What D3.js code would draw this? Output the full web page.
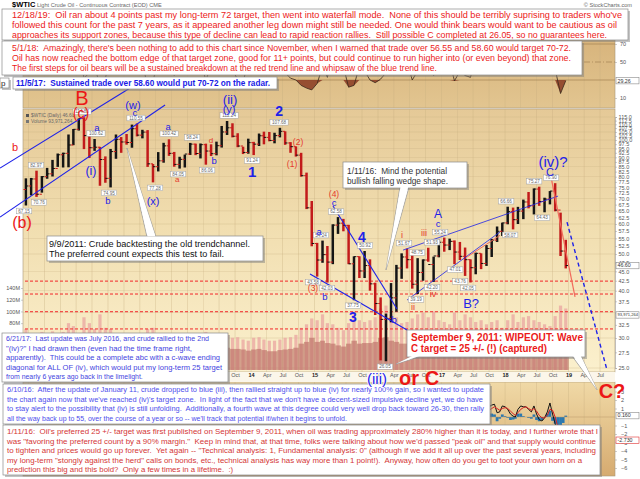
<!doctype html>
<html lang='en'>
<head>
<meta charset='UTF-8'>
<title>$WTIC</title>
<style>
  body { margin: 0; background: #fff; }
  svg { display: block; font-family: 'Liberation Sans', Arial, sans-serif; }
  .ax text { font-size: 5.5px; fill: #555; }
  .ax path, .ax line { stroke: #9a9a9a; stroke-width: 0.5; }
  .note text { white-space: pre; }
</style>
</head>
<body>
<script src='https://d3js.org/d3.v7.min.js'></script>
<script>
  // monthly price bars, Jun 2010 .. Dec 2018
  const firstOpen = 74.0
  const high = [
    79.2, 79.4, 82.97, 80.3, 84.4, 88.6, 92.1,
    92.6, 103.4, 106.9, 113.9, 114.83, 102.4, 100.62, 95.9, 90.5, 94.7, 103.4, 101.8,
    103.7, 109.8, 110.55, 106.4, 106.2, 86.4, 92.9, 98.3, 100.42, 93.0, 90.3, 91.5,
    98.24, 97.8, 97.9, 97.8, 97.4, 99.0, 108.9, 112.24, 110.7, 104.2, 96.0, 100.8,
    98.9, 104.0, 105.2, 105.0, 104.5, 107.68, 105.4, 98.7, 96.2, 92.5, 82.0, 69.0,
    53.5, 54.24, 52.5, 59.9, 62.58, 61.9, 59.7, 49.3, 49.3, 50.92, 48.4, 42.0,
    38.4, 34.8, 41.9, 46.8, 50.2, 51.67, 49.6, 48.75, 48.4, 51.93, 49.2, 54.5,
    55.24, 54.9, 54.3, 53.8, 52.0, 48.4, 50.4, 50.2, 52.8, 54.8, 59.1, 60.5,
    66.66, 66.3, 66.6, 69.6, 72.9, 74.5, 75.27, 70.4, 73.3, 76.9, 64.3, 54.5
  ]
  const low = [
    67.15, 71.4, 70.76, 72.6, 79.0, 80.1, 84.9,
    84.6, 84.7, 96.9, 105.9, 94.6, 89.6, 93.6, 75.7, 77.1, 74.95, 89.2, 92.5,
    97.2, 95.4, 102.2, 101.0, 84.9, 77.28, 82.6, 87.1, 90.8, 85.0, 84.05, 84.6,
    91.3, 91.2, 89.4, 86.06, 90.7, 91.1, 95.5, 103.1, 101.6, 95.7, 91.8, 92.0,
    91.24, 96.4, 97.4, 99.2, 98.0, 101.6, 97.1, 92.5, 90.4, 80.0, 65.7, 52.4,
    43.58, 47.4, 42.03, 47.0, 56.5, 57.4, 47.0, 37.75, 43.2, 43.2, 40.0, 34.5,
    26.19, 26.05, 33.0, 35.2, 43.0, 45.8, 40.5, 39.19, 42.5, 47.7, 42.2, 49.0,
    50.7, 51.2, 47.01, 48.2, 43.76, 42.05, 44.2, 45.6, 46.5, 49.1, 53.8, 55.8,
    59.9, 58.07, 60.0, 61.8, 66.0, 63.6, 67.0, 64.43, 67.6, 64.8, 49.4, 45.8
  ]
  const close = [
    75.6, 78.9, 71.9, 80.0, 81.4, 84.1, 91.4,
    92.2, 97.0, 106.7, 113.9, 102.7, 95.4, 95.7, 88.8, 79.2, 93.2, 100.4, 98.8,
    98.5, 107.1, 103.0, 104.9, 86.5, 85.0, 88.1, 96.5, 92.2, 86.2, 88.9, 91.8,
    97.5, 92.1, 97.2, 93.5, 92.0, 96.6, 105.0, 107.7, 102.3, 96.4, 92.7, 98.4,
    97.5, 102.6, 101.6, 99.7, 102.7, 105.4, 98.2, 96.0, 91.2, 80.5, 66.2, 53.3,
    48.2, 49.8, 47.6, 59.6, 60.3, 59.5, 47.1, 49.2, 45.1, 46.6, 41.7, 37.0,
    33.6, 33.8, 38.3, 45.9, 49.1, 48.3, 41.6, 44.7, 48.2, 46.9, 49.4, 53.7,
    52.8, 54.0, 50.6, 49.3, 48.3, 46.0, 50.2, 47.2, 51.7, 54.4, 57.4, 60.4,
    64.7, 61.6, 64.9, 68.6, 67.0, 74.2, 68.8, 69.8, 73.3, 65.3, 50.9, 46.6
  ]
  // volume in millions: typical day and busiest day of each month
  const volAvg = [
    42, 38, 40, 42, 40, 42, 38,
    42, 50, 48, 40, 55, 50, 45, 55, 45, 45, 40, 35,
    38, 40, 40, 38, 45, 45, 40, 38, 38, 40, 38, 35,
    38, 36, 36, 40, 38, 38, 40, 38, 36, 36, 35, 33,
    35, 36, 34, 32, 32, 34, 35, 36, 38, 45, 48, 55,
    48, 50, 46, 45, 42, 40, 45, 50, 45, 46, 46, 48,
    55, 56, 50, 48, 45, 45, 48, 50, 50, 48, 52, 46,
    45, 43, 50, 46, 50, 48, 45, 46, 43, 45, 46, 40,
    45, 50, 45, 48, 50, 46, 45, 43, 42, 48, 58, 62
  ]
  const volMax = [
    70, 60, 62, 65, 62, 66, 58,
    65, 80, 75, 62, 90, 80, 70, 95, 72, 70, 62, 55,
    60, 62, 62, 58, 70, 72, 62, 58, 60, 62, 58, 52,
    58, 55, 55, 65, 58, 58, 62, 60, 55, 56, 52, 50,
    55, 56, 52, 50, 50, 52, 55, 56, 60, 72, 78, 88,
    85, 95, 80, 78, 72, 68, 80, 100, 85, 82, 85, 90,
    105, 110, 95, 90, 80, 82, 88, 95, 98, 90, 100, 85,
    82, 78, 98, 85, 95, 90, 82, 85, 78, 82, 85, 72,
    85, 95, 82, 90, 92, 85, 82, 78, 75, 92, 110, 105
  ]
  const rsi = [
    50, 55, 38, 55, 58, 56, 62,
    55, 60, 62, 65, 32, 38, 45, 24, 32, 55, 58, 45,
    52, 60, 52, 50, 22, 28, 55, 60, 50, 35, 48, 52,
    58, 38, 50, 30, 45, 55, 68, 60, 42, 30, 28, 50,
    42, 58, 45, 45, 52, 60, 38, 32, 30, 24, 21, 19,
    26, 45, 33, 62, 58, 45, 22, 24, 45, 40, 30, 27,
    31, 38, 55, 60, 62, 50, 30, 40, 50, 55, 35, 60,
    52, 50, 29, 40, 35, 33, 55, 45, 58, 60, 68, 58,
    62, 38, 50, 60, 55, 45, 48, 40, 60, 42, 15, 29.26
  ]
  // MACD, twice a month (only the right end is visible)
  const macdDates = ['2017-09-01', '2017-09-16', '2017-10-01', '2017-10-16', '2017-11-01', '2017-11-16',
    '2017-12-01', '2017-12-16', '2018-01-01', '2018-01-16', '2018-02-01', '2018-02-16', '2018-03-01',
    '2018-03-16', '2018-04-01', '2018-04-16', '2018-05-01', '2018-05-16', '2018-06-01', '2018-06-16',
    '2018-07-01', '2018-07-16', '2018-08-01', '2018-08-16', '2018-09-01', '2018-09-16', '2018-10-01',
    '2018-10-16', '2018-11-01', '2018-11-16', '2018-12-01', '2018-12-16']
  const macd = [0.6, 0.8, 1.2, 1.4, 1.5, 0.5, 0.6, 1.3, 1.2, 0.9, 0.35, 0.1, 0.0, 0.9, 1.3, 1.2,
    1.2, 0.9, 0.6, 1.3, 0.35, -0.3, -0.47, -0.1, 0.6, 1.65, 0.35, -0.8, -2.2, -4.0, -4.2, -2.73]
  const signal = [0.5, 0.6, 0.8, 1.0, 1.2, 1.0, 0.8, 1.0, 1.1, 1.0, 0.7, 0.4, 0.2, 0.5, 0.9, 1.1,
    1.2, 1.0, 0.8, 1.0, 0.7, 0.2, -0.1, -0.1, 0.2, 0.9, 0.8, 0.0, -1.2, -2.6, -3.5, -2.89]
  const hist = [0.1, 0.2, 0.4, 0.4, 0.3, -0.5, -0.2, 0.3, 0.1, -0.1, -0.35, -0.3, -0.2, 0.4, 0.4, 0.1,
    0.0, -0.1, -0.2, 0.3, -0.35, -0.5, -0.37, 0.0, 0.4, 0.75, -0.45, -0.8, -1.0, -1.4, -0.7, 0.16]

  const priceTicks = [25, 27.5, 30, 32.5, 35, 37.5, 40, 42.5, 45, 47.5, 50, 52.5, 55, 57.5, 60, 62.5,
    65, 67.5, 70, 72.5, 75, 77.5, 80, 82.5, 85, 87.5, 90, 92.5, 95, 97.5, 100, 102.5, 105, 107.5,
    110, 112.5, 115]
  const volTicks = [80, 100, 120, 140]
  const rsiTicks = [10, 50, 70]
  const macdTicks = [3, 2, 1, -1, -2, -3, -4, -5, -6]
  const supportLevels = [42.4, 39.2, 35.2, 31.7]

  // pivot price flags: value, decimal year, above/below
  const priceFlags = [
    ['67.15', 2010.425, 'lo'], ['82.97', 2010.614, 'hi'], ['70.76', 2010.661, 'lo'],
    ['114.83', 2011.339, 'hi'], ['100.62', 2011.559, 'hi'], ['74.95', 2011.764, 'lo'],
    ['110.55', 2012.189, 'hi'], ['77.28', 2012.488, 'lo'], ['100.42', 2012.709, 'hi'],
    ['84.05', 2012.85, 'lo'], ['98.24', 2013.071, 'hi'], ['86.06', 2013.307, 'lo'],
    ['112.24', 2013.654, 'hi'], ['91.24', 2014.016, 'lo'], ['107.68', 2014.441, 'hi'],
    ['43.58', 2014.976, 'lo'], ['54.24', 2015.102, 'hi'], ['42.03', 2015.197, 'lo'],
    ['62.58', 2015.339, 'hi'], ['37.75', 2015.606, 'lo'], ['50.92', 2015.795, 'hi'],
    ['26.05', 2016.11, 'lo'], ['51.67', 2016.409, 'hi'], ['39.19', 2016.598, 'lo'],
    ['48.75', 2016.614, 'hi'], ['51.93', 2016.85, 'hi'], ['42.20', 2016.85, 'lo'],
    ['55.24', 2016.976, 'hi'], ['47.01', 2017.213, 'lo'], ['43.76', 2017.291, 'lo'],
    ['42.05', 2017.417, 'lo'], ['66.66', 2018.016, 'hi'], ['58.07', 2018.079, 'lo'],
    ['75.27', 2018.457, 'hi'], ['64.43', 2018.583, 'lo'], ['76.90', 2018.724, 'hi']
  ]

  const RED = '#ec1717', RED2 = '#e5392c', BLUE = '#1e22e8'
  // wave labels: text, decimal year, price, colour, size, weight
  const waveLabels = [
    ['B', 2011.339, 129.1, RED, 20, 400], ['(c)', 2011.323, 117.8, RED, 14, 400],
    ['b', 2010.283, 95.8, RED, 11, 400], ['(b)', 2010.394, 60.7, RED, 16, 400],
    ['a', 2011.575, 107.6, BLUE, 9.5, 400], ['(i)', 2011.48, 83.3, BLUE, 12.5, 400],
    ['b', 2011.748, 69.0, BLUE, 9.5, 400], ['(w)', 2012.142, 123.7, BLUE, 11, 400],
    ['c', 2012.173, 117.8, BLUE, 9.5, 400], ['(x)', 2012.457, 69.0, BLUE, 11, 400],
    ['a', 2012.693, 108.2, BLUE, 9.5, 400], ['d', 2013.37, 100.0, RED2, 8, 400],
    ['b', 2013.417, 88.0, BLUE, 9.5, 400], ['a', 2012.835, 78.9, RED2, 8, 400],
    ['(ii)', 2013.669, 128.3, BLUE, 13, 400], ['(y)', 2013.654, 120.7, BLUE, 11, 400],
    ['1', 2014.016, 82.3, BLUE, 15, 700], ['2', 2014.441, 119.2, BLUE, 14, 700],
    ['(2)', 2014.74, 98.8, RED2, 8.5, 400], ['(1)', 2014.646, 86.4, RED2, 8.5, 400],
    ['a', 2015.071, 57.2, BLUE, 9.5, 400], ['(4)', 2015.307, 72.0, RED2, 8.5, 400],
    ['c', 2015.307, 68.2, BLUE, 9.5, 400], ['4', 2015.748, 55.4, BLUE, 14, 700],
    ['(3)', 2014.976, 40.7, RED2, 8.5, 400], ['b', 2015.165, 38.7, BLUE, 9.5, 400],
    ['3', 2015.606, 34.1, BLUE, 14, 700], ['b', 2016.252, 33.5, BLUE, 9.5, 400],
    ['i', 2016.378, 56.1, RED2, 9, 400], ['iii', 2016.724, 56.8, RED2, 9, 400],
    ['ii', 2016.551, 36.2, RED2, 9, 400], ['iv', 2016.866, 39.2, RED2, 9, 400],
    ['A', 2016.945, 63.8, BLUE, 12, 400], ['c', 2016.945, 60.0, BLUE, 9.5, 400],
    ['B?', 2017.465, 37.1, BLUE, 13, 400], ['(iv)?', 2018.756, 87.5, BLUE, 15, 400],
    ['C', 2018.709, 82.3, BLUE, 11, 400], ['(iii)', 2015.984, 23.5, BLUE, 15, 400],
    ['or C', 2016.646, 23.5, RED, 20, 700], ['C?', 2019.685, 21.7, RED, 20, 700]
  ]

  // trend lines as [decimal year, price] pairs
  const SALMON = '#f26a5c'
  const trendLines = [
    { pts: [[2010.047, 84.3], [2012.173, 139.7]], col: BLUE, w: 1.1 },
    { pts: [[2010.047, 62.6], [2012.646, 123.7]], col: BLUE, w: 1.1 },
    { pts: [[2015.291, 66.96], [2016.299, 35.8]], col: BLUE, w: 1.1 },
    { pts: [[2014.929, 44.3], [2016.457, 31.5]], col: BLUE, w: 1.1 },
    { pts: [[2016.394, 51.2], [2018.835, 71.1]], col: BLUE, w: 0.8 },
    { pts: [[2016.457, 37.8], [2017.921, 57.2]], col: BLUE, w: 0.8 },
    { pts: [[2017.402, 49.1], [2017.92, 56.0]], col: SALMON, w: 1 },
    { pts: [[2018.724, 79.8], [2019.102, 38.5]], col: SALMON, w: 1.2 },
    { pts: [[2018.976, 60.7], [2019.606, 24.7]], col: BLUE, w: 1.4, dash: '4,3' }
  ]

  // annotation boxes (page layout) and where their tails point (data)
  const notes = [
    { x: 2, y: 9, w: 626, h: 31, col: '#ec1a1a', size: 8.7, lx: 12, ly: [15, 25, 35], ends: [622, 617, 607], lines: [
      '12/18/19:  Oil ran about 4 points past my long-term 72 target, then went into waterfall mode.  None of this should be terribly suprising to traders who\'ve',
      'followed this count for the past 7 years, as it appeared another leg down might still be needed. One would think bears would want to be cautious as oil',
      'approaches its support zones, because this type of decline can lead to rapid reaction rallies.  Still possible C completed at 26.05, so no guarantees here.'] },
    { x: 2, y: 41, w: 580, h: 34, col: '#ec1a1a', size: 8.5, lx: 12, ly: [48, 58, 68], ends: [571, 571, null], lines: [
      '5/1/18:  Amazingly, there\'s been nothing to add to this chart since November, when I warned that trade over 56.55 and 58.60 would target 70-72.',
      'Oil has now reached the bottom edge of that target zone, good for 11+ points, but could continue to run higher into (or even beyond) that zone.',
      'The first steps for oil bears will be a sustained breakdown at the red trend line and whipsaw of the blue trend line.'] },
    { x: 13, y: 77, w: 264, h: 12, col: '#1a1ae6', size: 8.4, weight: 700, lx: 16, ly: [83], ends: [270], lines: [
      '11/5/17:  Sustained trade over 58.60 would put 70-72 on the radar.'] },
    { x: 0, y: 78, w: 9, h: 10, col: '#222', size: 8, lx: 1, ly: [83], ends: [null], lines: ['p'] },
    { x: 343, y: 162, w: 124, h: 26, col: '#333', size: 8.2, lx: 347, ly: [171, 181], ends: [447, 448], lines: [
      '1/11/16:  Mind the potential', 'bullish falling wedge shape.'],
      tails: [{ base: [[400, 187], [409, 187]], tip: [2016.126, 45.4] }] },
    { x: 47, y: 236, w: 216, h: 25, col: '#111', size: 8.3, lx: 49, ly: [244.5, 254], ends: [250, 224], lines: [
      '9/9/2011: Crude backtesting the old trendchannel.', 'The preferred count expects this test to fail.'],
      tails: [{ base: [[147, 237], [156, 237]], tip: [2012.047, 95.2] }] },
    { x: 407, y: 330, w: 178, h: 27, col: '#ec1a1a', size: 10.5, weight: 700, lx: 411, ly: [337.5, 348.5], ends: [583, 547], lines: [
      'September 9, 2011: WIPEOUT: Wave', 'C target = 25 +/- (!) (captured)'],
      tails: [{ base: [[413, 356], [422, 356]], tip: [2016.283, 25.6] }, { base: [[572, 356], [581, 356]], tip: [2019.449, 21.9] }] },
    { x: 2, y: 333, w: 226, h: 49, col: '#4343e0', size: 6.9, lx: 6, ly: [339, 348.5, 358, 367.5, 377], ends: [209, 192, 220, 222, null], lines: [
      '6/21/17:  Last update was July 2016, and crude rallied to the 2nd',
      '"(iv)?" I had drawn then (even had the time frame right,',
      'apparently).  This could be a complete abc with a c-wave ending',
      'diagonal for ALL OF (iv), which would put my long-term 25 target',
      'from nearly 6 years ago back in the limelight.'] },
    { x: 3, y: 384, w: 487, h: 40, col: '#4d4dec', size: 7, lx: 7, ly: [389.5, 399, 408.5, 418], ends: [484, 483, 484, null], lines: [
      '6/10/16:  After the update of January 11, crude dropped to blue (iii), then rallied straight up to blue (iv) for nearly 100% gain, so I wanted to update',
      'the chart again now that we\'ve reached (iv)\'s target zone.  In light of the fact that we don\'t have a decent-sized impulsive decline yet, we do have',
      'to stay alert to the possibility that (iv) is still unfolding.  Additionally, a fourth wave at this degree could very well drop back toward 26-30, then rally',
      'all the way back up to 55, over the course of a year or so -- we\'ll track that potential if/when it begins to unfold.'] },
    { x: 3, y: 425, w: 597, h: 50, col: '#d43636', size: 7.8, lx: 7, ly: [431, 441, 450.5, 460, 469.5], ends: [598, 596, 596, 582, null], lines: [
      '1/11/16:  Oil\'s preferred 25 +/- target was first published on September 9, 2011, when oil was trading approximately 280% higher than it is today, and I further wrote that I',
      'was "favoring the preferred count by a 90% margin."  Keep in mind that, at that time, folks were talking about how we\'d passed "peak oil" and that supply would continue',
      'to tighten and prices would go up forever.  Yet again -- "Technical analysis: 1, Fundamental analysis: 0" (although if we add it all up over the past several years, including',
      'my long-term "stongly against the herd" calls on bonds, etc., technical analysis has way more than 1 point!).  Anyway, how often do you get to toot your own horn on a',
      'prediction this big and this bold?  Only a few times in a lifetime.  :)'] }
  ]

  //// layout ////
  const W = 640, H = 479
  const plotL = 23, plotR = 615
  const rsiTop = 10, rsiBot = 108, mainTop = 109, mainBot = 372, macdTop = 382, macdBot = 476

  const dateOf = t => {
    const yr = Math.floor(t), a = Date.UTC(yr, 0, 1), b = Date.UTC(yr + 1, 0, 1)
    return new Date(a + (t - yr) * (b - a))
  }
  const months = d3.utcMonth.range(new Date(Date.UTC(2010, 5, 1)), new Date(Date.UTC(2019, 0, 1)))
  const mid = m => d3.utcDay.offset(m, 15)

  const x = d3.scaleUtc().domain([dateOf(2010.409), dateOf(2019.732)]).range([plotL, plotR])
  const y = d3.scaleLog().domain([25, 115]).range([368, 117])
  const yVol = d3.scaleLinear().domain([0, 140]).range([370, 288])
  const yRsi = d3.scaleLinear().domain([0, 100]).range([107, 17])
  const yMacd = d3.scaleLinear().domain([-6, 3]).range([468, 391.5])

  const bars = months.map((m, i) => ({ m, o: i ? close[i - 1] : firstOpen, h: high[i], l: low[i], c: close[i],
    va: volAvg[i], vm: volMax[i], r: rsi[i] }))

  const svg = d3.select('body').append('svg').attr('width', W).attr('height', H)
  const defs = svg.append('defs')

  function grad (id, stops) {
    const g = defs.append('linearGradient').attr('id', id).attr('x1', 0).attr('x2', 0).attr('y1', 0).attr('y2', 1)
    stops.forEach(([o, c]) => g.append('stop').attr('offset', o).attr('stop-color', c))
  }
  grad('gRsi', [[0, '#d3ad74'], [1, '#e2c590']])
  grad('gMain', [[0, '#e5c997'], [0.45, '#f1deb0'], [1, '#fbf0cd']])
  grad('gMacd', [[0, '#f0d9a6'], [1, '#d6ab70']])

  defs.append('clipPath').attr('id', 'clipMain').append('rect')
    .attr('x', plotL).attr('y', mainTop).attr('width', plotR - plotL).attr('height', mainBot - mainTop)
  defs.append('clipPath').attr('id', 'clipMacd').append('rect')
    .attr('x', plotL).attr('y', macdTop).attr('width', plotR - plotL).attr('height', macdBot - macdTop)
  defs.append('clipPath').attr('id', 'clipRsi').append('rect')
    .attr('x', plotL).attr('y', rsiTop).attr('width', plotR - plotL).attr('height', rsiBot - rsiTop)

  //// panels ////
  const panels = [[rsiTop, rsiBot, 'gRsi'], [mainTop, mainBot, 'gMain'], [macdTop, macdBot, 'gMacd']]
  svg.selectAll('rect.panel').data(panels).enter().append('rect')
    .attr('class', 'panel')
    .attr('x', plotL).attr('y', d => d[0]).attr('width', plotR - plotL).attr('height', d => d[1] - d[0])
    .attr('fill', d => `url(#${d[2]})`).attr('stroke', '#a89878').attr('stroke-width', 0.6)

  const quarters = d3.utcMonth.every(3).range(dateOf(2010.41), dateOf(2019.74))
  const grid = svg.append('g').attr('class', 'grid')
  panels.forEach(p => {
    grid.append('g').selectAll('line').data(quarters).enter().append('line')
      .attr('x1', d => x(d)).attr('x2', d => x(d)).attr('y1', p[0]).attr('y2', p[1])
      .attr('stroke', '#c9b083').attr('stroke-width', 0.5).attr('opacity', 0.7)
  })
  grid.append('g').selectAll('line').data(priceTicks.filter(v => v % 5 === 0)).enter().append('line')
    .attr('x1', plotL).attr('x2', plotR).attr('y1', d => y(d)).attr('y2', d => y(d))
    .attr('stroke', '#c9b083').attr('stroke-width', 0.5).attr('opacity', 0.6)

  //// RSI panel ////
  const rsiG = svg.append('g').attr('clip-path', 'url(#clipRsi)')
  rsiG.selectAll('line.lvl').data([70, 30]).enter().append('line')
    .attr('x1', plotL).attr('x2', plotR).attr('y1', d => yRsi(d)).attr('y2', d => yRsi(d))
    .attr('stroke', '#9b7a4a').attr('stroke-width', 0.6)
  rsiG.append('line').attr('x1', plotL).attr('x2', plotR).attr('y1', yRsi(50)).attr('y2', yRsi(50))
    .attr('stroke', '#9b7a4a').attr('stroke-width', 0.6).attr('stroke-dasharray', '6,2,1,2')
  rsiG.append('path').datum(bars)
    .attr('fill', '#8a3a22').attr('opacity', 0.85)
    .attr('d', d3.area().x(d => x(mid(d.m))).y0(yRsi(30)).y1(d => yRsi(Math.min(d.r, 30))))
  rsiG.append('path').datum(bars)
    .attr('fill', 'none').attr('stroke', '#3a2a1c').attr('stroke-width', 0.8)
    .attr('d', d3.line().x(d => x(mid(d.m))).y(d => yRsi(d.r)))

  //// main panel ////
  const main = svg.append('g').attr('clip-path', 'url(#clipMain)')
  const vol = main.append('g')
  vol.selectAll('rect.vm').data(bars).enter().append('rect')
    .attr('x', d => x(mid(d.m)) - 1.6).attr('width', 3.2)
    .attr('y', d => yVol(d.vm)).attr('height', d => yVol(0) - yVol(d.vm))
    .attr('fill', '#e9a4a0').attr('opacity', 0.75)
  vol.selectAll('rect.va').data(bars).enter().append('rect')
    .attr('x', d => x(d.m)).attr('width', d => x(d3.utcMonth.offset(d.m, 1)) - x(d.m) + 0.2)
    .attr('y', d => yVol(d.va)).attr('height', d => yVol(0) - yVol(d.va))
    .attr('fill', '#b86a60').attr('opacity', 0.6)

  main.append('g').selectAll('line').data(supportLevels).enter().append('line')
    .attr('x1', plotL - 3).attr('x2', plotR).attr('y1', d => y(d)).attr('y2', d => y(d))
    .attr('stroke', '#f2272a').attr('stroke-width', 1).attr('stroke-dasharray', '3,2')

  const pb = main.append('g')
  pb.selectAll('line.hl').data(bars).enter().append('line')
    .attr('x1', d => x(mid(d.m))).attr('x2', d => x(mid(d.m)))
    .attr('y1', d => y(d.h)).attr('y2', d => y(d.l))
    .attr('stroke', d => d.c >= d.o ? '#151515' : '#c21b1b').attr('stroke-width', 2.5)
  pb.selectAll('line.op').data(bars).enter().append('line')
    .attr('x1', d => x(mid(d.m)) - 2.4).attr('x2', d => x(mid(d.m)))
    .attr('y1', d => y(d.o)).attr('y2', d => y(d.o))
    .attr('stroke', '#d01a1a').attr('stroke-width', 1)
  pb.selectAll('line.cl').data(bars).enter().append('line')
    .attr('x1', d => x(mid(d.m))).attr('x2', d => x(mid(d.m)) + 2.4)
    .attr('y1', d => y(d.c)).attr('y2', d => y(d.c))
    .attr('stroke', '#111').attr('stroke-width', 1)

  // legend
  const lg = svg.append('g').style('font-size', '4.8px').style('fill', '#666')
  lg.append('rect').attr('x', 26).attr('y', 114).attr('width', 3).attr('height', 3).attr('fill', '#555')
  lg.append('text').attr('x', 31).attr('y', 117).text('$WTIC (Daily) 46.60')
  lg.append('rect').attr('x', 26).attr('y', 120).attr('width', 3).attr('height', 3).attr('fill', '#777')
  lg.append('text').attr('x', 31).attr('y', 123).text('Volume 93,971,264')

  //// MACD panel ////
  const mg = svg.append('g').attr('clip-path', 'url(#clipMacd)')
  const md = macdDates.map((s, i) => ({ d: new Date(s), m: macd[i], s: signal[i], h: hist[i] }))
  mg.selectAll('rect').data(md).enter().append('rect')
    .attr('x', d => x(d.d) - 1.4).attr('width', 2.8)
    .attr('y', d => Math.min(yMacd(0), yMacd(d.h))).attr('height', d => Math.abs(yMacd(d.h) - yMacd(0)))
    .attr('fill', '#2b78b0')
  mg.append('line').attr('x1', plotL).attr('x2', plotR).attr('y1', yMacd(0)).attr('y2', yMacd(0))
    .attr('stroke', '#b89a6a').attr('stroke-width', 0.5)
  mg.append('path').datum(md).attr('fill', 'none').attr('stroke', '#111').attr('stroke-width', 1)
    .attr('d', d3.line().x(d => x(d.d)).y(d => yMacd(d.m)))
  mg.append('path').datum(md).attr('fill', 'none').attr('stroke', '#d82020').attr('stroke-width', 1)
    .attr('d', d3.line().x(d => x(d.d)).y(d => yMacd(d.s)))

  //// axes ////
  svg.append('rect').attr('x', plotL).attr('y', mainBot).attr('width', plotR - plotL).attr('height', macdTop - mainBot)
    .attr('fill', '#fbf6ea')
  const mon = d3.utcFormat('%b'), yr2 = d3.utcFormat('%y')
  svg.append('g').attr('class', 'ax').attr('transform', `translate(0,${mainBot})`)
    .call(d3.axisBottom(x).tickValues(quarters).tickFormat(d => d.getUTCMonth() ? mon(d) : yr2(d)).tickSize(0).tickPadding(1.5))
    .call(g => g.select('.domain').remove())
    .selectAll('text').filter(d => !d.getUTCMonth()).style('font-weight', 'bold').style('fill', '#222')

  svg.append('g').attr('class', 'ax').attr('transform', `translate(${plotR},0)`)
    .call(d3.axisRight(y).tickValues(priceTicks).tickFormat(d3.format('.1f')).tickSize(2).tickPadding(1.5))
  svg.append('g').attr('class', 'ax').attr('transform', `translate(${plotR},0)`)
    .call(d3.axisRight(yRsi).tickValues(rsiTicks).tickSize(2).tickPadding(3))
    .call(g => g.select('.domain').remove())
  svg.append('g').attr('class', 'ax').attr('transform', `translate(${plotR},0)`)
    .call(d3.axisRight(yMacd).tickValues(macdTicks).tickFormat(d3.format('d')).tickSize(2).tickPadding(4))
    .call(g => g.select('.domain').remove())
  svg.append('g').attr('class', 'ax').attr('transform', `translate(${plotL},0)`)
    .call(d3.axisLeft(yVol).tickValues(volTicks).tickFormat(d => d + 'M').tickSize(2).tickPadding(1))
    .call(g => g.select('.domain').remove())

  function valueBox (yy, txt, stroke, fs) {
    const g = svg.append('g')
    g.append('rect').attr('x', plotR + 1).attr('y', yy - 3.2).attr('width', 23).attr('height', 6.4)
      .attr('fill', '#fff').attr('stroke', stroke).attr('stroke-width', 0.6)
    g.append('text').attr('x', plotR + 2.5).attr('y', yy).attr('dy', '0.35em')
      .style('font-size', (fs || 5.3) + 'px').style('fill', '#333').text(txt)
  }
  valueBox(yRsi(29.26), '29.26', '#888')
  valueBox(y(46.6), '46.60', '#888')
  valueBox(yVol(93.97), '93,971,264', '#888', 4.1)
  valueBox(yMacd(0.16), '0.160', '#888')
  valueBox(yMacd(-2.73), '-2.730', '#e03030')

  //// annotations ////
  const ann = svg.append('g')
  ann.selectAll('line.trend').data(trendLines).enter().append('line')
    .attr('x1', d => x(dateOf(d.pts[0][0]))).attr('y1', d => y(d.pts[0][1]))
    .attr('x2', d => x(dateOf(d.pts[1][0]))).attr('y2', d => y(d.pts[1][1]))
    .attr('stroke', d => d.col).attr('stroke-width', d => d.w)
    .attr('stroke-dasharray', d => d.dash || null)

  const flags = ann.selectAll('g.flag').data(priceFlags).enter().append('g')
    .attr('transform', d => `translate(${x(dateOf(d[1]))},${y(+d[0]) + (d[2] === 'hi' ? -5.5 : 5.5)})`)
  flags.append('rect').attr('x', d => -d[0].length * 1.35 - 1).attr('y', -2.8)
    .attr('width', d => d[0].length * 2.7 + 2).attr('height', 5.6)
    .attr('fill', '#fff').attr('stroke', '#a0a0a0').attr('stroke-width', 0.5)
  flags.append('text').attr('text-anchor', 'middle').attr('dy', '0.35em')
    .style('font-size', '4.6px').style('fill', '#666').text(d => d[0])

  // notes with tails
  const noteG = svg.selectAll('g.note').data(notes).enter().append('g').attr('class', 'note')
  noteG.selectAll('polygon').data(d => d.tails || []).enter().append('polygon')
    .attr('points', t => [t.base[0], [x(dateOf(t.tip[0])), y(t.tip[1])], t.base[1]].map(p => p.join(',')).join(' '))
    .attr('fill', '#fff').attr('stroke', '#9a9a9a').attr('stroke-width', 0.8)
  noteG.append('rect').attr('x', d => d.x + 2).attr('y', d => d.y + 2).attr('width', d => d.w).attr('height', d => d.h)
    .attr('fill', '#7a7a7a').attr('opacity', 0.45)
  noteG.append('rect').attr('x', d => d.x).attr('y', d => d.y).attr('width', d => d.w).attr('height', d => d.h)
    .attr('fill', '#fff').attr('stroke', '#8a8a8a').attr('stroke-width', 0.7)
  noteG.each(function (d) {
    const g = d3.select(this)
    d.lines.forEach((line, i) => {
      const t = g.append('text').attr('x', d.lx).attr('y', d.ly[i]).attr('dy', '0.36em')
        .style('font-size', d.size + 'px').style('font-weight', d.weight || 400).style('fill', d.col)
        .text(line)
      if (d.ends[i]) t.attr('textLength', d.ends[i] - d.lx).attr('lengthAdjust', 'spacingAndGlyphs')
    })
  })
  // white cover over the box edge where a tail joins it
  noteG.selectAll('polyline').data(d => d.tails || []).enter().append('polygon')
    .attr('points', t => [[t.base[0][0] + 0.6, t.base[0][1] - 0.8], [x(dateOf(t.tip[0])), y(t.tip[1])], [t.base[1][0] - 0.6, t.base[1][1] - 0.8]].map(p => p.join(',')).join(' '))
    .attr('fill', '#fff').attr('stroke', 'none')

  // wave labels on top
  svg.append('g').selectAll('text').data(waveLabels).enter().append('text')
    .attr('x', d => x(dateOf(d[1]))).attr('y', d => y(d[2]))
    .attr('text-anchor', 'middle').attr('dy', '0.36em')
    .style('font-size', d => d[4] + 'px').style('font-weight', d => d[5]).style('fill', d => d[3])
    .style('paint-order', 'stroke').style('stroke', d => d[0] === '(iii)' ? '#fff' : 'none').style('stroke-width', 1.5)
    .text(d => d[0])

  // title row
  const title = svg.append('g')
  title.append('text').attr('x', 12).attr('y', 7).style('font-size', '7.5px').style('font-weight', 'bold').text('$WTIC')
  title.append('text').attr('x', 37).attr('y', 7).style('font-size', '5.6px').style('fill', '#666')
    .text('Light Crude Oil - Continuous Contract (EOD)  CME')
  title.append('text').attr('x', 632).attr('y', 7).attr('text-anchor', 'end').style('font-size', '5.6px').style('fill', '#666')
    .text('© StockCharts.com')
</script>
</body>
</html>
